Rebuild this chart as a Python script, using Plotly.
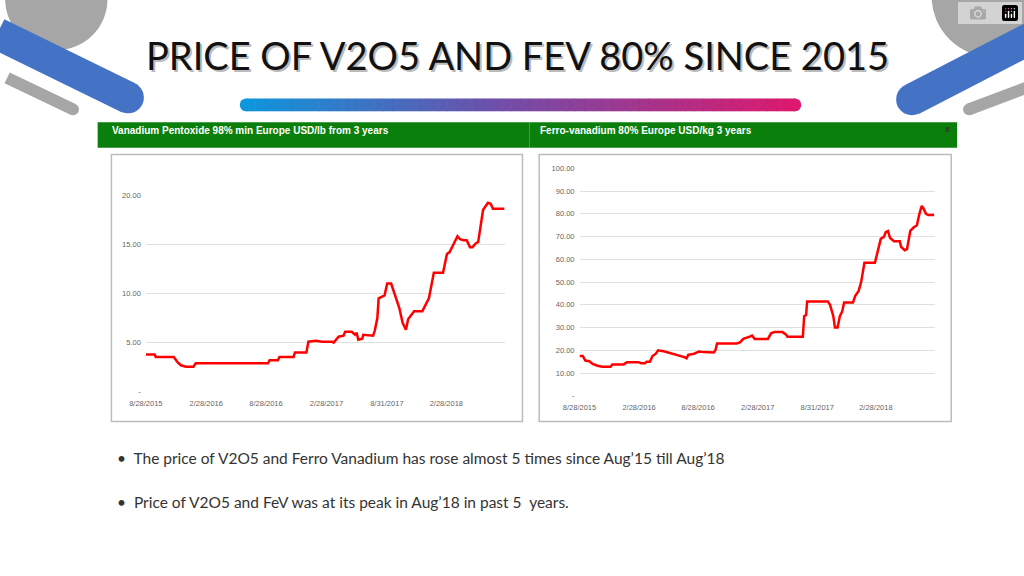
import plotly.graph_objects as go

# ---- data ----
v2o5_days = [0, 27, 30, 85, 97, 107, 122, 145, 152, 372, 377, 402, 407, 450, 454, 489, 495, 517, 537, 567, 572, 587,
             602, 607, 627, 637, 642, 647, 659, 662, 692, 697, 705, 709, 727, 735, 747, 759, 772, 782, 792, 799, 812,
             817, 842, 852, 862, 877, 905, 917, 925, 937, 949, 957, 967, 977, 987, 995, 1005, 1012, 1022, 1027, 1042,
             1050, 1057, 1067, 1075, 1092]
v2o5_vals = [3.8, 3.8, 3.55, 3.55, 3.0, 2.7, 2.55, 2.55, 2.9, 2.9, 3.2, 3.2, 3.55, 3.55, 4.0, 4.0, 5.1, 5.2, 5.1, 5.1,
             5.0, 5.6, 5.7, 6.1, 6.1, 5.8, 6.0, 5.3, 5.4, 5.8, 5.7, 6.2, 7.5, 9.5, 9.8, 11.0, 11.0, 9.8, 8.5, 7.0, 6.3,
             7.4, 8.0, 8.2, 8.2, 8.9, 9.5, 12.1, 12.1, 14.0, 14.2, 15.0, 15.8, 15.5, 15.4, 15.4, 14.7, 14.7, 15.1,
             15.2, 17.2, 18.5, 19.2, 19.1, 18.6, 18.6, 18.6, 18.6]
v2o5_ticks = ["8/28/2015", "2/28/2016", "8/28/2016", "2/28/2017", "8/31/2017", "2/28/2018"]
v2o5_tickpos = [0, 184, 366, 550, 734, 915]

fev_days = [0, 10, 18, 30, 40, 55, 70, 95, 100, 135, 145, 180, 188, 200, 205, 215, 223, 233, 240, 260, 320, 327, 332,
            350, 365, 380, 410, 415, 420, 430, 480, 490, 500, 520, 527, 535, 575, 585, 595, 620, 630, 635, 682, 686,
            692, 695, 758, 765, 775, 780, 788, 795, 802, 808, 835, 842, 852, 860, 870, 902, 908, 913, 920, 930, 935,
            942, 948, 960, 978, 982, 993, 1000, 1010, 1020, 1030, 1038, 1045, 1050, 1058, 1065, 1083]
fev_vals = [17.5, 17.5, 15.5, 15.2, 14.0, 13.2, 12.8, 12.8, 13.8, 13.8, 14.8, 14.8, 14.3, 14.3, 15.0, 15.0, 17.5, 18.5,
            20.0, 19.5, 17.0, 16.5, 18.0, 18.5, 19.5, 19.2, 19.0, 20.0, 23.0, 23.0, 23.0, 23.5, 25.0, 26.0, 26.5, 25.0,
            25.0, 27.5, 28.0, 28.0, 27.0, 26.0, 26.0, 35.0, 35.5, 41.5, 41.5, 40.0, 35.0, 30.0, 30.0, 35.0, 37.0, 41.0,
            41.0, 44.0, 46.0, 50.0, 58.5, 58.5, 62.0, 64.0, 69.0, 70.0, 72.0, 72.5, 69.5, 68.0, 68.0, 65.5, 64.0, 64.5,
            72.5, 74.0, 75.0, 80.0, 83.5, 82.5, 80.0, 79.5, 79.5]
fev_ticks = ["8/28/2015", "2/28/2016", "8/28/2016", "2/28/2017", "8/31/2017", "2/28/2018"]
fev_tickpos = [0, 182, 362, 544, 726, 905]

W, H = 1024, 576
px = lambda x: x / W
py = lambda y: 1 - y / H

fig = go.Figure()
fig.add_trace(go.Scatter(x=v2o5_days, y=v2o5_vals, mode="lines", line=dict(color="#ff0000", width=2.5),
                         xaxis="x", yaxis="y", hoverinfo="skip"))
fig.add_trace(go.Scatter(x=fev_days, y=fev_vals, mode="lines", line=dict(color="#ff0000", width=2.5),
                         xaxis="x2", yaxis="y2", hoverinfo="skip"))

tickfont = dict(family="Liberation Sans, Arial", size=7.5, color="#666")
ax_common = dict(showline=False, zeroline=False, ticks="", tickfont=tickfont, fixedrange=True)
fig.update_layout(
    width=W, height=H, margin=dict(l=0, r=0, t=0, b=0), showlegend=False,
    paper_bgcolor="white", plot_bgcolor="rgba(0,0,0,0)",
    xaxis=dict(domain=[px(131), px(496)], range=[0, 1093], tickvals=v2o5_tickpos, ticktext=v2o5_ticks,
               showgrid=False, anchor="y", ticklabelstandoff=6, **ax_common),
    yaxis=dict(domain=[py(394), py(194)], range=[0, 20], tickvals=[0, 5, 10, 15, 20],
               ticktext=["-", "5.00", "10.00", "15.00", "20.00"], showgrid=True, gridcolor="#e0e0e0",
               anchor="x", ticklabelstandoff=4, **ax_common),
    xaxis2=dict(domain=[px(572), px(933)], range=[0, 1084], tickvals=fev_tickpos, ticktext=fev_ticks,
                showgrid=False, anchor="y2", ticklabelstandoff=6, **ax_common),
    yaxis2=dict(domain=[py(398), py(167)], range=[0, 100], tickvals=list(range(0, 101, 10)),
                ticktext=["-"] + ["%.2f" % v for v in range(10, 101, 10)], showgrid=True, gridcolor="#e0e0e0",
                anchor="x2", ticklabelstandoff=4, **ax_common),
)

shapes = []
def rect(x0, y0, x1, y1, fill, line=None, lw=0, layer="below"):
    shapes.append(dict(type="rect", xref="paper", yref="paper", x0=px(x0), x1=px(x1), y0=py(y1), y1=py(y0),
                       fillcolor=fill, line=dict(color=line or fill, width=lw), layer=layer))
def circ(cx, cy, r, fill):
    shapes.append(dict(type="circle", xref="paper", yref="paper", x0=px(cx - r), x1=px(cx + r),
                       y0=py(cy + r), y1=py(cy - r), fillcolor=fill, line=dict(width=0), layer="below"))
def band(x0, y0, x1, y1, w, col):
    shapes.append(dict(type="line", xref="paper", yref="paper", x0=px(x0), y0=py(y0), x1=px(x1), y1=py(y1),
                       line=dict(color=col, width=w), layer="below"))
    circ(x1, y1, w / 2, col)

# decorations
circ(40, -5, 52, "#a6a6a6")
band(-10, 75, 57, 107, 12, "#a6a6a6")
band(-20, 30, 113, 95, 32, "#4472c4")
circ(992, -8, 62, "#a6a6a6")
band(1040, 80, 968, 107, 12, "#a6a6a6")
band(1040, 30, 910, 97, 32, "#4472c4")
# gradient bar
stops = [(0, (14, 150, 220)), (0.45, (110, 80, 170)), (1, (220, 25, 110))]
N = 60
x0g, x1g = 233, 791
def col_at(t):
    for (a, ca), (b, cb) in zip(stops, stops[1:]):
        if a <= t <= b:
            f = (t - a) / (b - a)
            return "rgb(%d,%d,%d)" % tuple(int(ca[i] + (cb[i] - ca[i]) * f) for i in range(3))
for i in range(N):
    xa = x0g + (x1g - x0g) * i / N
    xb = x0g + (x1g - x0g) * (i + 1) / N + 0.6
    rect(xa, 96, xb, 109, col_at((i + 0.5) / N))
circ(233, 102.5, 6.5, col_at(0.0))
circ(791, 102.5, 6.5, col_at(1.0))
# green headers
rect(82, 120, 521, 146, "#0b7f0b")
rect(521, 120, 956, 146, "#0b7f0b")
# chart boxes
rect(96, 153, 514, 424, "white", "#bdbdbd", 1.5)
rect(531, 153, 950, 424, "white", "#bdbdbd", 1.5)
fig.update_layout(shapes=shapes)

ann = []
def text(x, y, s, size, color, family, anchor="left", bold=False):
    ann.append(dict(xref="paper", yref="paper", x=px(x), y=py(y), text=("<b>%s</b>" % s) if bold else s,
                    showarrow=False, xanchor=anchor, yanchor="middle",
                    font=dict(size=size, color=color, family=family)))
title = "PRICE OF V2O5 AND FEV 80% SINCE 2015"
text(511, 54, title, 38, "#bbbbbb", "Lato", "center")
text(509, 52, title, 38, "#111111", "Lato", "center")
text(95, 129, "Vanadium Pentoxide 98% min Europe USD/lb from 3 years", 10, "white", "Liberation Sans", bold=True)
text(530, 128, "Ferro-vanadium 80% Europe USD/kg 3 years", 10, "white", "Liberation Sans", bold=True)
text(946, 127, "x", 9, "#333", "Liberation Sans", "center", bold=True)
text(100, 461, "•  The price of V2O5 and Ferro Vanadium has rose almost 5 times since Aug’15 till Aug’18", 15.5,
     "#333333", "Lato")
text(100, 506, "•  Price of V2O5 and FeV was at its peak in Aug’18 in past 5  years.", 15.5, "#333333", "Lato")
fig.update_layout(annotations=ann)

fig.write_html("out.html")
with open("out.html", encoding="utf-8") as f:
    html = f.read()
html = html.replace("<head>", "<head><style>html,body{margin:0;padding:0;overflow:hidden}</style>", 1)
with open("out.html", "w", encoding="utf-8") as f:
    f.write(html)
